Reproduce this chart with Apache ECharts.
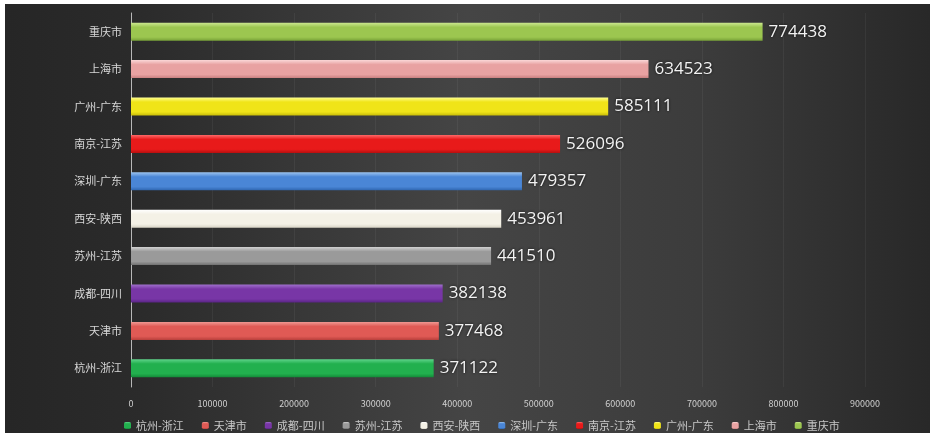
<!DOCTYPE html>
<html>
<head>
<meta charset="utf-8">
<script src="https://cdn.jsdelivr.net/npm/echarts@6/dist/echarts.min.js"></script>
<style>
html,body{margin:0;padding:0;background:#ffffff;width:935px;height:437px;overflow:hidden;}
#chart{position:absolute;left:5px;top:4px;width:925px;height:429px;}
</style>
</head>
<body>
<div id="chart"></div>
<script>
// Categories bottom -> top (as drawn on the category axis)
var categories = ['杭州-浙江','天津市','成都-四川','苏州-江苏','西安-陕西','深圳-广东','南京-江苏','广州-广东','上海市','重庆市'];
var values = [371122, 377468, 382138, 441510, 453961, 479357, 526096, 585111, 634523, 774438];
var xTicks = [0, 100000, 200000, 300000, 400000, 500000, 600000, 700000, 800000, 900000];
var barColors = ['#22b04e','#e05a55','#7836a6','#9a9a9a','#f4f1e6','#4a86d6','#e81a1a','#f0e418','#e8a2a2','#9cc650'];
var barLight  = ['#5fd48a','#f09a94','#a070cc','#d0d0d0','#ffffff','#9cc4f0','#ff6a6a','#ffff90','#fad6d6','#cce890'];
var barDark   = ['#138a38','#b8403c','#5a2486','#707070','#d8d4c6','#2f66b0','#b80f0f','#c8bc08','#c98080','#78a238'];

var series = categories.map(function(name, i){
  var d = categories.map(function(c, j){ return j === i ? values[i] : '-'; });
  return {
    name: name,
    type: 'bar',
    data: d,
    barWidth: 18,
    barGap: '-100%',
    itemStyle: {
      color: new echarts.graphic.LinearGradient(0,0,0,1,[
        {offset:0, color: barLight[i]},
        {offset:0.25, color: barColors[i]},
        {offset:0.8, color: barColors[i]},
        {offset:1, color: barDark[i]}
      ])
    },
    label: {
      show: true,
      position: 'right',
      distance: 6,
      color: '#f2f2f2',
      fontSize: 17,
      fontWeight: 500,
      fontFamily: 'Open Sans, Noto Sans, sans-serif',
      textShadowColor: 'rgba(0,0,0,0.8)',
      textShadowBlur: 3
    }
  };
});

var chart = echarts.init(document.getElementById('chart'));
chart.setOption({
  animation: false,
  backgroundColor: new echarts.graphic.LinearGradient(0,0,1,0,[
    {offset:0, color:'#262626'},
    {offset:0.15, color:'#2b2b2b'},
    {offset:0.5, color:'#454545'},
    {offset:0.75, color:'#3c3c3c'},
    {offset:1, color:'#282828'}
  ]),
  grid: {left: 126, right: 65, top: 9, bottom: 46, containLabel: false},
  legend: {
    data: categories,
    top: 411,
    left: 114,
    itemWidth: 7,
    itemHeight: 7,
    itemGap: 18,
    icon: 'roundRect',
    textStyle: {color: '#c8c8c8', fontSize: 11, fontFamily: 'Noto Sans CJK SC'}
  },
  xAxis: {
    type: 'value',
    min: 0,
    max: 900000,
    interval: 100000,
    axisLine: {show: false},
    axisTick: {show: false},
    splitLine: {show: true, lineStyle: {color: 'rgba(255,255,255,0.05)'}},
    axisLabel: {
      color: '#d0d0d0', fontSize: 9, margin: 12,
      fontFamily: 'Noto Sans CJK SC',
      formatter: function(v){ return xTicks.indexOf(v) >= 0 ? String(v) : ''; }
    }
  },
  yAxis: {
    type: 'category',
    data: categories,
    axisLine: {show: true, lineStyle: {color: '#b8b8b8', width: 1}},
    axisTick: {show: false},
    axisLabel: {color: '#d8d8d8', fontSize: 11, margin: 9, fontFamily: 'Noto Sans CJK SC'}
  },
  series: series
});
</script>
</body>
</html>
